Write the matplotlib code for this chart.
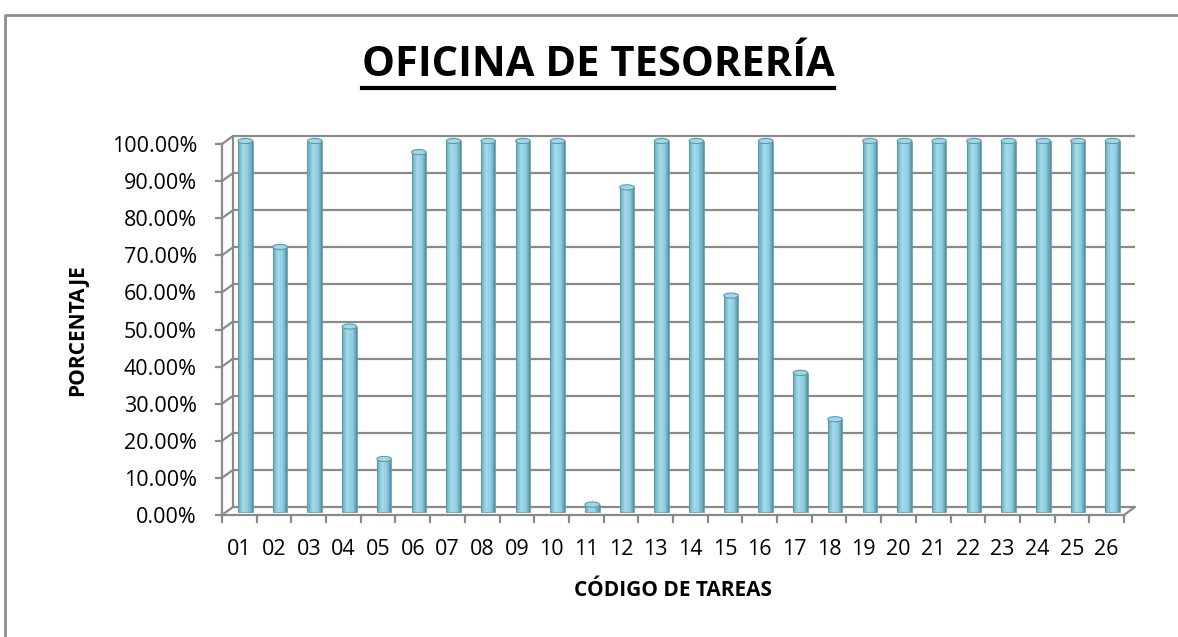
import matplotlib
matplotlib.use("Agg")
import matplotlib.pyplot as plt
from matplotlib.patches import Ellipse, ConnectionPatch
from matplotlib.transforms import ScaledTranslation
from matplotlib.lines import Line2D
import numpy as np

categories = ['01', '02', '03', '04', '05', '06', '07', '08', '09', '10', '11', '12', '13',
              '14', '15', '16', '17', '18', '19', '20', '21', '22', '23', '24', '25', '26']
values = [1.0, 0.7143, 1.0, 0.50, 0.1429, 0.97, 1.0, 1.0, 1.0, 1.0, 0.02, 0.875, 1.0,
          1.0, 0.5833, 1.0, 0.375, 0.25, 1.0, 1.0, 1.0, 1.0, 1.0, 1.0, 1.0, 1.0]
yticks = [0.0, 0.1, 0.2, 0.3, 0.4, 0.5, 0.6, 0.7, 0.8, 0.9, 1.0]
title = "OFICINA DE TESORERÍA"
xlabel = "CÓDIGO DE TAREAS"
ylabel = "PORCENTAJE"

DPI = 100
W, H = 1178, 637
fig = plt.figure(figsize=(W / DPI, H / DPI), dpi=DPI)
fig.patch.set_facecolor('white')

ax = fig.add_axes([222 / W, (H - 515) / H, 902 / W, 371 / H])
ax.set_xlim(-0.5, len(categories) - 0.5)
ax.set_ylim(0, 1)
ax.patch.set_alpha(0)

grid_c = '#8a8a8a'
lw = 1.6

def px(dx, dy):
    return ScaledTranslation(dx / DPI, dy / DPI, fig.dpi_scale_trans)

trans_back = ax.transData + px(11, 8)
trans_bar = ax.transData + px(6, 3)

x = np.arange(len(categories))

# back wall gridlines
ax.hlines(yticks, -0.5, len(categories) - 0.5, colors=grid_c, lw=lw,
          transform=trans_back, clip_on=False, zorder=1)
ax.vlines([-0.5], 0, 1, colors=grid_c, lw=lw, transform=trans_back, clip_on=False, zorder=1)
# left wall diagonals
for yv in yticks:
    cp = ConnectionPatch(xyA=(-0.5, yv), coordsA=ax.transData,
                         xyB=(-0.5, yv), coordsB=trans_back,
                         color=grid_c, lw=lw, zorder=1)
    fig.add_artist(cp)
cp = ConnectionPatch(xyA=(len(categories) - 0.5, 0), coordsA=ax.transData,
                     xyB=(len(categories) - 0.5, 0), coordsB=trans_back,
                     color=grid_c, lw=lw, zorder=1)
fig.add_artist(cp)

# cylinders made of vertical slices
bw = 0.42
n = 14
prof_t = [0.0, 0.12, 0.38, 0.7, 0.9, 1.0]
prof_c = np.array([[80, 140, 158], [120, 185, 205], [165, 220, 235],
                   [140, 205, 222], [105, 165, 185], [80, 135, 152]]) / 255.0
for k in range(n):
    t = (k + 0.5) / n
    c = [np.interp(t, prof_t, prof_c[:, j]) for j in range(3)]
    off = -bw / 2 + (k + 0.5) * bw / n
    ax.bar(x + off, values, width=bw / n * 1.02, color=c, linewidth=0,
           transform=trans_bar, zorder=3, clip_on=False)
ax.bar(x, values, width=bw, fill=False, edgecolor='#5f9aab', linewidth=0.6,
       transform=trans_bar, zorder=3.5, clip_on=False)
for xi, v in zip(x, values):
    e = Ellipse((xi, v), width=bw, height=0.014, facecolor='#a4d6e4',
                edgecolor='#5f9aab', lw=0.8, transform=trans_bar, zorder=4, clip_on=False)
    ax.add_patch(e)

# front axes
for s in ['top', 'right']:
    ax.spines[s].set_visible(False)
for s in ['left', 'bottom']:
    ax.spines[s].set_color(grid_c)
    ax.spines[s].set_linewidth(lw)
ax.spines['left'].set_zorder(2)
ax.spines['bottom'].set_zorder(5)

ax.set_yticks(yticks)
ax.set_yticklabels([f"{v * 100:.2f}%" for v in yticks])
ax.set_xticks(np.arange(len(categories) + 1) - 0.5, minor=False)
ax.set_xticklabels([])
ax.set_xticks(x, minor=True)
ax.set_xticklabels(categories, minor=True)
ax.tick_params(axis='x', which='major', length=6, width=lw, color=grid_c, direction='out')
ax.tick_params(axis='x', which='minor', length=0, pad=17, labelsize=15.5, labelcolor='#000000')
ax.tick_params(axis='y', length=5, width=lw, color=grid_c, pad=13, labelsize=15.5,
               labelcolor='#000000')
for lab in ax.get_xticklabels(minor=True) + ax.get_yticklabels():
    lab.set_fontfamily('Open Sans')

# labels
fig.text(673 / W, 1 - 591 / H, xlabel, ha='center', va='center', fontsize=15,
         fontweight='bold', family='Open Sans')
fig.text(78 / W, 1 - 330 / H, ylabel, ha='center', va='center', fontsize=15,
         fontweight='bold', family='Open Sans', rotation=90)
t = fig.text(598 / W, 1 - 65 / H, title, ha='center', va='center', fontsize=30,
             fontweight='bold', family='Open Sans')

fig.canvas.draw()
bb = t.get_window_extent(fig.canvas.get_renderer())
fig.add_artist(Line2D([bb.x0 / W, bb.x1 / W], [(H - 88) / H, (H - 88) / H],
                      color='black', lw=3, transform=fig.transFigure))

# chart border
fig.add_artist(Line2D([4.5 / W, 4.5 / W, 1.0], [0.0, 1 - 14.5 / H, 1 - 14.5 / H],
                      color='#8c8c8c', lw=2, transform=fig.transFigure))

fig.savefig('out.png', dpi=DPI, facecolor='white')
